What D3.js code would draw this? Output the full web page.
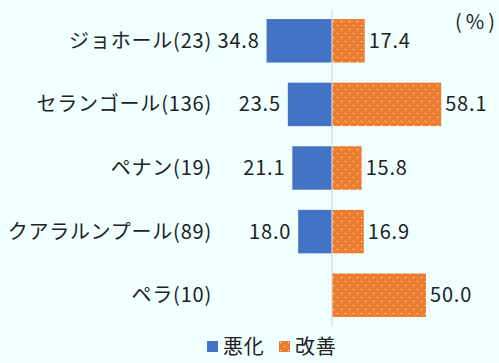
<!DOCTYPE html>
<html>
<head>
<meta charset="utf-8">
<script src="https://cdn.jsdelivr.net/npm/d3@7"></script>
<style>
  body { margin: 0; background: #F0FFFF; }
  text { font-family: "Noto Sans CJK JP", "Noto Sans", sans-serif; fill: #222; letter-spacing: 0.8px; }
</style>
</head>
<body>
<div id="chart"></div>
<script>
// data
var states = ['ジョホール(23)', 'セランゴール(136)', 'ペナン(19)', 'クアラルンプール(89)', 'ペラ(10)']
var worse = [34.8, 23.5, 21.1, 18.0, null]
var better = [17.4, 58.1, 15.8, 16.9, 50.0]
var seriesNames = ['悪化', '改善']
var unitLabel = '(%)'

var W = 499, H = 363;
var blue = '#4472C4', orange = '#ED7D31';

var svg = d3.select('#chart').append('svg')
    .attr('width', W)
    .attr('height', H);

svg.append('rect').attr('width', W).attr('height', H).attr('fill', '#F0FFFF');

// dotted fill for the orange bars
var pat = svg.append('defs').append('pattern')
    .attr('id', 'dots')
    .attr('patternUnits', 'userSpaceOnUse')
    .attr('width', 8).attr('height', 8);
pat.append('rect').attr('width', 8).attr('height', 8).attr('fill', orange);
pat.append('rect').attr('x', 1).attr('y', 1).attr('width', 1).attr('height', 1).attr('fill', '#fff');
pat.append('rect').attr('x', 5).attr('y', 5).attr('width', 1).attr('height', 1).attr('fill', '#fff');

var x = d3.scaleLinear()
    .domain([-40, 60])
    .range([256.8, 444.8]);

var y = d3.scaleBand()
    .domain(states)
    .range([9, 327])
    .paddingInner(0.316)
    .paddingOuter(0.158);

var rows = states.map(function(s, i) { return {name: s, w: worse[i], b: better[i]}; });
var fs = 20;

// blue bars (left of zero)
svg.selectAll('rect.worse')
  .data(rows.filter(function(d) { return d.w != null; }))
  .enter().append('rect')
    .attr('class', 'worse')
    .attr('x', function(d) { return x(-d.w); })
    .attr('y', function(d) { return y(d.name); })
    .attr('width', function(d) { return x(0) - x(-d.w); })
    .attr('height', y.bandwidth())
    .attr('fill', blue);

// orange bars
svg.selectAll('rect.better')
  .data(rows)
  .enter().append('rect')
    .attr('class', 'better')
    .attr('x', x(0))
    .attr('y', function(d) { return y(d.name); })
    .attr('width', function(d) { return x(d.b) - x(0); })
    .attr('height', y.bandwidth())
    .attr('fill', 'url(#dots)');

// zero line
svg.append('line')
    .attr('x1', x(0)).attr('x2', x(0))
    .attr('y1', 9).attr('y2', 327)
    .attr('stroke', '#D9D9D9')
    .attr('stroke-width', 1.2);

// category labels
svg.selectAll('text.cat')
  .data(rows)
  .enter().append('text')
    .attr('class', 'cat')
    .attr('x', 212)
    .attr('y', function(d) { return y(d.name) + y.bandwidth() / 2; })
    .attr('dy', '0.35em')
    .attr('text-anchor', 'end')
    .style('font-size', fs + 'px')
    .text(function(d) { return d.name; });

// value labels
svg.selectAll('text.wv')
  .data(rows.filter(function(d) { return d.w != null; }))
  .enter().append('text')
    .attr('x', function(d) { return x(-d.w) - 7; })
    .attr('y', function(d) { return y(d.name) + y.bandwidth() / 2; })
    .attr('dy', '0.35em')
    .attr('text-anchor', 'end')
    .style('font-size', fs + 'px')
    .text(function(d) { return d.w.toFixed(1); });

svg.selectAll('text.bv')
  .data(rows)
  .enter().append('text')
    .attr('x', function(d) { return x(d.b) + 4; })
    .attr('y', function(d) { return y(d.name) + y.bandwidth() / 2; })
    .attr('dy', '0.35em')
    .style('font-size', fs + 'px')
    .text(function(d) { return d.b.toFixed(1); });

// unit
svg.append('text')
    .attr('x', 455).attr('y', 22)
    .attr('dy', '0.35em')
    .style('font-size', fs + 'px')
    .style('letter-spacing', '4px')
    .text(unitLabel);

// legend
var legend = [
  {name: seriesNames[0], fill: blue, x: 207},
  {name: seriesNames[1], fill: 'url(#dots)', x: 279}
];
var lg = svg.selectAll('g.lg').data(legend).enter().append('g')
    .attr('transform', function(d) { return 'translate(' + d.x + ',341)'; });
lg.append('rect').attr('width', 11).attr('height', 11).attr('fill', function(d) { return d.fill; });
lg.append('text')
    .attr('x', 16).attr('y', 5.5)
    .attr('dy', '0.35em')
    .style('font-size', fs + 'px')
    .text(function(d) { return d.name; });
</script>
</body>
</html>
